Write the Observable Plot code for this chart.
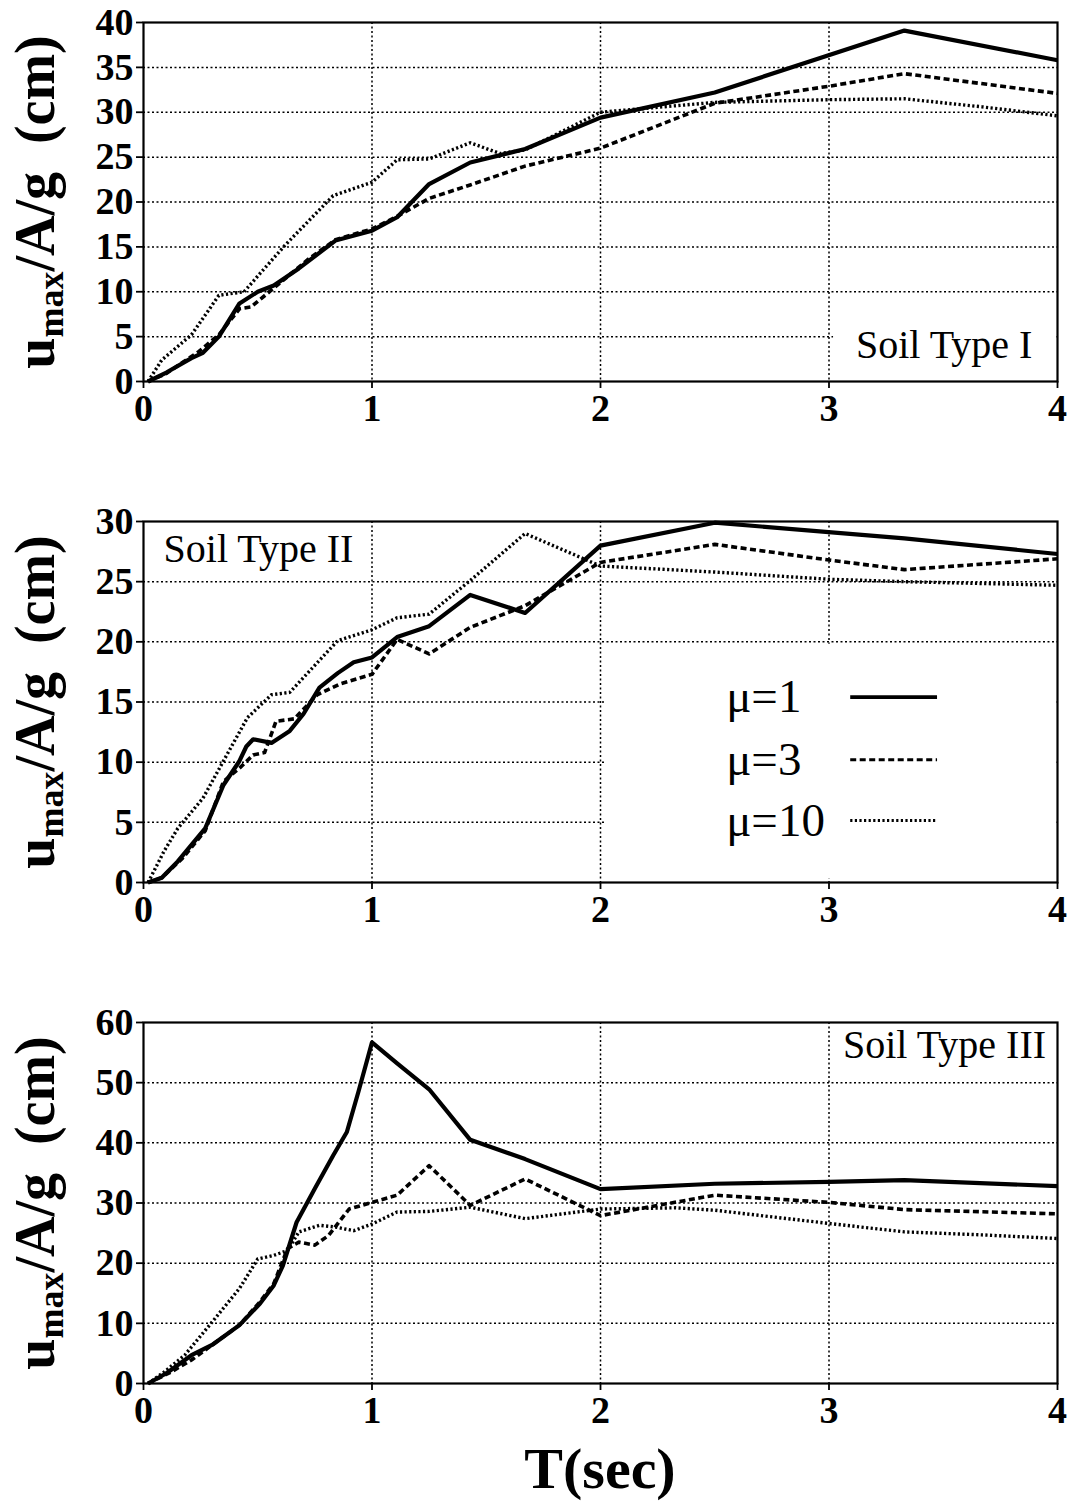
<!DOCTYPE html>
<html>
<head>
<meta charset="utf-8">
<script src="https://cdn.jsdelivr.net/npm/d3@7"></script>
<script src="https://cdn.jsdelivr.net/npm/@observablehq/plot@0.6"></script>
<style>
  html, body { margin: 0; padding: 0; background: #fff; }
  #root { position: relative; width: 1071px; height: 1505px; overflow: hidden; }
  .panel { position: absolute; left: 0; }
  .ylab { position: absolute; left: 38px; white-space: nowrap; font-family: "Liberation Serif", serif;
          font-weight: bold; font-size: 56px; line-height: 1; transform: translate(-50%, -50%) rotate(-90deg); }
  .ylab sub { font-size: 36px; vertical-align: -0.25em; }
  .xlab { position: absolute; left: 0; width: 1200px; text-align: center; top: 1440px;
          font-family: "Liberation Serif", serif; font-weight: bold; font-size: 58px; line-height: 1; }
</style>
</head>
<body>
<div id="root"></div>
<script>
// ---- Data (T in sec, u_max/A/g in cm) ----
const xTicks = [0, 1, 2, 3, 4];

// Soil Type I
const soilI_mu1 = [[0.02,0],[0.1,1.0],[0.21,2.6],[0.26,3.2],[0.33,5.0],[0.42,8.7],[0.5,10.0],[0.57,10.7],[0.68,12.6],[0.84,15.7],[1.0,16.8],[1.11,18.3],[1.25,22.0],[1.43,24.4],[1.67,25.9],[2.0,29.4],[2.5,32.2],[3.33,39.1],[4.0,35.8]];
const soilI_mu3 = [[0.02,0],[0.1,0.9],[0.24,3.3],[0.33,5.2],[0.42,8.1],[0.47,8.3],[0.57,10.4],[0.72,13.6],[0.84,15.8],[1.0,17.0],[1.11,18.4],[1.25,20.4],[1.43,21.9],[1.67,24.0],[2.0,26.0],[2.5,31.0],[3.0,32.9],[3.33,34.3],[4.0,32.1]];
const soilI_mu10 = [[0.02,0],[0.08,2.4],[0.21,5.2],[0.33,9.6],[0.44,10.0],[0.54,12.9],[0.62,15.2],[0.83,20.7],[1.0,22.2],[1.11,24.7],[1.25,24.8],[1.43,26.6],[1.56,25.4],[1.67,25.8],[2.0,30.0],[2.5,31.1],[3.0,31.4],[3.33,31.5],[3.67,30.6],[4.0,29.6]];
const soilI_yTicks = [0, 5, 10, 15, 20, 25, 30, 35, 40];

// Soil Type II
const soilII_mu1 = [[0.02,0],[0.08,0.4],[0.15,1.75],[0.27,4.5],[0.35,8.1],[0.42,10.1],[0.45,11.3],[0.48,11.9],[0.56,11.6],[0.64,12.6],[0.7,14.0],[0.77,16.2],[0.85,17.4],[0.92,18.3],[1.0,18.7],[1.11,20.4],[1.25,21.3],[1.43,23.9],[1.67,22.4],[2.0,28.0],[2.5,29.9],[3.33,28.6],[4.0,27.3]];
const soilII_mu3 = [[0.02,0],[0.08,0.4],[0.17,2.0],[0.27,4.3],[0.35,8.4],[0.42,9.5],[0.48,10.6],[0.53,10.8],[0.58,13.4],[0.66,13.6],[0.76,15.6],[0.86,16.5],[1.0,17.3],[1.11,20.2],[1.25,19.0],[1.43,21.2],[1.67,23.0],[2.0,26.6],[2.5,28.1],[3.0,26.8],[3.33,26.0],[4.0,26.9]];
const soilII_mu10 = [[0.02,0],[0.09,2.6],[0.15,4.5],[0.26,7.0],[0.35,10.1],[0.455,13.7],[0.56,15.6],[0.64,15.8],[0.85,20.1],[1.0,21.0],[1.11,22.0],[1.25,22.3],[1.43,25.1],[1.67,29.0],[2.0,26.3],[2.5,25.8],[3.0,25.2],[3.33,25.0],[4.0,24.7]];
const soilII_yTicks = [0, 5, 10, 15, 20, 25, 30];

// Soil Type III
const soilIII_mu1 = [[0.02,0],[0.1,1.7],[0.21,4.7],[0.3,6.4],[0.42,9.7],[0.51,13.3],[0.57,16.3],[0.61,19.6],[0.67,26.8],[0.75,32.4],[0.83,37.9],[0.89,41.8],[0.94,48.4],[1.0,56.7],[1.11,53.2],[1.25,48.9],[1.43,40.5],[1.67,37.3],[2.0,32.3],[2.5,33.2],[3.0,33.5],[3.33,33.8],[4.0,32.8]];
const soilIII_mu3 = [[0.02,0],[0.12,1.9],[0.21,3.9],[0.3,6.4],[0.42,9.7],[0.51,13.6],[0.57,16.6],[0.63,22.4],[0.68,23.5],[0.75,23.0],[0.81,24.6],[0.9,29.0],[1.0,30.1],[1.11,31.3],[1.25,36.2],[1.43,29.6],[1.67,34.0],[2.0,27.9],[2.5,31.3],[3.0,30.1],[3.33,28.9],[4.0,28.2]];
const soilIII_mu10 = [[0.02,0],[0.09,1.9],[0.18,4.7],[0.3,10.2],[0.42,15.8],[0.5,20.7],[0.57,21.3],[0.63,22.1],[0.68,25.2],[0.77,26.3],[0.84,26.0],[0.92,25.4],[1.0,26.5],[1.11,28.5],[1.25,28.6],[1.43,29.3],[1.67,27.4],[2.0,29.0],[2.33,29.2],[2.5,28.8],[3.0,26.6],[3.33,25.2],[3.67,24.7],[4.0,24.1]];
const soilIII_yTicks = [0, 10, 20, 30, 40, 50, 60];

// Legend
const legendLabels = ["μ=1", "μ=3", "μ=10"];
const legendY = [15.4, 10.2, 5.15];

// ---- Styles per ductility ----
const styles = [
  {strokeWidth: 4.2, strokeDasharray: null},
  {strokeWidth: 3.6, strokeDasharray: "6,3.5"},
  {strokeWidth: 3.4, strokeDasharray: "2.2,2.4"}
];

function toRows(pairs) { return pairs.map(([t, v]) => ({t, v})); }

function panel({top, mt, mb, series, yTicks, label, box}) {
  const yMax = yTicks[yTicks.length - 1];
  const marks = [
    Plot.gridX(xTicks.slice(1, -1), {stroke: "#000", strokeOpacity: 1, strokeWidth: 1.5, strokeDasharray: "2,2.5"}),
    Plot.gridY(yTicks.slice(1, -1), {stroke: "#000", strokeOpacity: 1, strokeWidth: 1.5, strokeDasharray: "2,2.5"})
  ];
  if (box) marks.push(Plot.rect([box], {x1: "x1", x2: "x2", y1: "y1", y2: "y2", fill: "#fff"}));
  series.forEach((s, i) => {
    marks.push(Plot.line(toRows(s), {x: "t", y: "v", stroke: "#000", strokeWidth: styles[i].strokeWidth,
      strokeDasharray: styles[i].strokeDasharray, strokeLinejoin: "round", strokeLinecap: "butt"}));
  });
  if (label.legend) {
    legendLabels.forEach((lab, i) => {
      marks.push(Plot.text([lab], {x: 2.55, y: legendY[i], text: d => d, textAnchor: "start", lineAnchor: "middle",
        fontSize: 47, fontWeight: "normal", fill: "#000"}));
      marks.push(Plot.ruleY([legendY[i]], {x1: 3.095, x2: 3.475, stroke: "#000", strokeWidth: styles[i].strokeWidth - 0.5,
        strokeDasharray: styles[i].strokeDasharray, strokeLinecap: "butt"}));
    });
  }
  marks.push(Plot.text([label.text], {x: label.x, y: label.y, text: d => d, textAnchor: label.anchor,
    lineAnchor: "middle", fontSize: 40, fontWeight: "normal", fill: "#000"}));
  marks.push(Plot.frame({stroke: "#000", strokeWidth: 2.2}));
  marks.push(Plot.axisX(xTicks, {tickSize: 7, tickPadding: 6, label: null, tickFormat: d => d, strokeWidth: 1.8}));
  marks.push(Plot.axisY(yTicks, {tickSize: 7, tickPadding: 3, label: null, tickFormat: d => d, strokeWidth: 1.8}));

  const svg = Plot.plot({
    width: 1071, height: 440,
    marginLeft: 143, marginRight: 14, marginTop: mt, marginBottom: mb,
    x: {domain: [0, 4]},
    y: {domain: [0, yMax]},
    style: {fontFamily: "'Liberation Serif', 'Times New Roman', serif", fontSize: "38px", fontWeight: "bold", color: "#000", background: "#fff", overflow: "visible"},
    marks
  });
  const wrap = document.createElement("div");
  wrap.className = "panel";
  wrap.style.top = top + "px";
  wrap.appendChild(svg);
  root.appendChild(wrap);

  const yl = document.createElement("div");
  yl.className = "ylab";
  yl.style.top = (top + mt + (440 - mt - mb) / 2) + "px";
  yl.innerHTML = "u<sub>max</sub>/A/g&nbsp;&nbsp;(cm)";
  root.appendChild(yl);
}

const root = document.getElementById("root");

panel({top: 0, mt: 22, mb: 59, series: [soilI_mu1, soilI_mu3, soilI_mu10], yTicks: soilI_yTicks,
  label: {text: "Soil Type I", x: 3.89, y: 4.1, anchor: "end"},
  box: {x1: 3.02, x2: 3.99, y1: 0.5, y2: 8.8}});

panel({top: 500, mt: 21, mb: 58, series: [soilII_mu1, soilII_mu3, soilII_mu10], yTicks: soilII_yTicks,
  label: {text: "Soil Type II", x: 0.088, y: 27.7, anchor: "start", legend: true},
  box: {x1: 2.02, x2: 3.99, y1: 0.3, y2: 19.8}});

panel({top: 1000, mt: 22, mb: 57, series: [soilIII_mu1, soilIII_mu3, soilIII_mu10], yTicks: soilIII_yTicks,
  label: {text: "Soil Type III", x: 3.95, y: 56.2, anchor: "end"}});

const xl = document.createElement("div");
xl.className = "xlab";
xl.textContent = "T(sec)";
root.appendChild(xl);
</script>
</body>
</html>
